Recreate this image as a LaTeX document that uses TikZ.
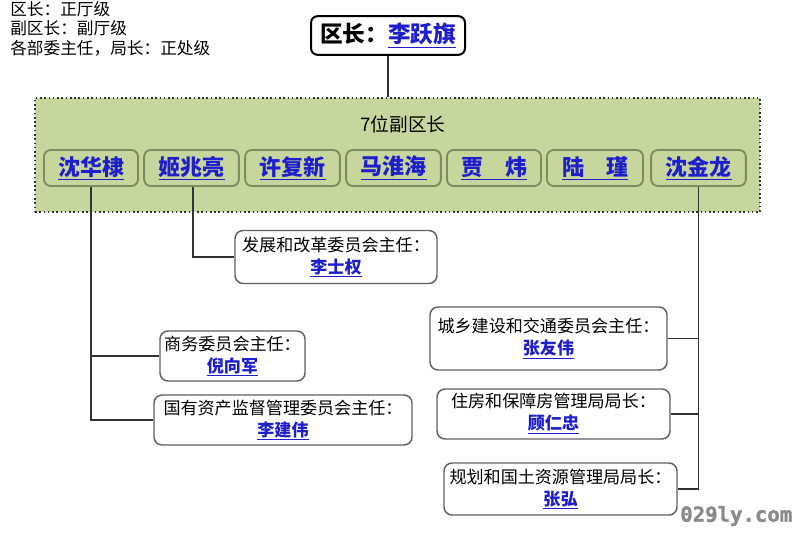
\documentclass[tikz,border=0pt]{standalone}
\usepackage{fontspec}
\setmainfont{Noto Sans CJK SC}
\newfontfamily\wmfont{DejaVu Sans Mono}[BoldFont={DejaVu Sans Mono Bold},BoldFeatures={FakeBold=1.5}]
\definecolor{lnk}{HTML}{1E1ECC}
\definecolor{grpfill}{HTML}{C6D69C}
\definecolor{subedge}{HTML}{7D8C5E}
\definecolor{boxedge}{HTML}{606060}
\definecolor{wire}{HTML}{333333}
\definecolor{wmgray}{HTML}{8A8A8A}
\newcommand{\lk}[1]{\textcolor{lnk}{\underline{\textbf{#1}}}}
\begin{document}
\begin{tikzpicture}[x=0.75pt,y=-0.75pt,
  note/.style={anchor=west,inner sep=0pt,font=\fontsize{12.5}{14}\selectfont},
  headbox/.style={draw=black,line width=1.5pt,rounded corners=5pt,fill=white,minimum width=115.5pt,minimum height=29pt,inner sep=0pt,font=\fontsize{17}{20}\selectfont\bfseries},
  grpbox/.style={draw=wire,dotted,line width=1.2pt,fill=grpfill,minimum width=543.75pt,minimum height=85.5pt,inner sep=0pt},
  vicebox/.style={draw=subedge,line width=1.4pt,rounded corners=5pt,fill=grpfill,minimum height=27pt,inner sep=0pt,font=\fontsize{16.5}{19}\selectfont},
  deptbox/.style={draw=boxedge,line width=1.1pt,rounded corners=6pt,fill=white,inner sep=0pt,align=center,font=\fontsize{12.8}{16.5}\selectfont},
  wire/.style={draw=wire,line width=1.1pt}]
\useasboundingbox (0,0) rectangle (800,535);
\fill[white] (0,0) rectangle (800,535);
% notes
\node[note] (n1) at (10,9) {区长：正厅级};
\node[note] (n2) at (10,28) {副区长：副厅级};
\node[note] (n3) at (10,48) {各部委主任，局长：正处级};
% head
\node[headbox] (qz) at (388,35.5) {区长：\lk{李跃旗}};
% group
\node[grpbox] (grp) at (397.5,155) {};
\node[font=\fontsize{14}{16}\selectfont] (title) at (403,124) {7位副区长};
\node[vicebox,minimum width=70.5pt] (s1) at (91,168) {\lk{沈华棣}};
\node[vicebox,minimum width=71pt] (s2) at (191.5,168) {\lk{姬兆亮}};
\node[vicebox,minimum width=71pt] (s3) at (292.5,168) {\lk{许复新}};
\node[vicebox,minimum width=71pt] (s4) at (393.5,168) {\lk{马淮海}};
\node[vicebox,minimum width=70.5pt] (s5) at (494,168) {\lk{贾\hspace{1em}炜}};
\node[vicebox,minimum width=72pt] (s6) at (595,168) {\lk{陆\hspace{1em}瑾}};
\node[vicebox,minimum width=71pt] (s7) at (698.5,168) {\lk{沈金龙}};
% departments
\node[deptbox,minimum width=151.5pt,minimum height=39.75pt] (fz) at (336,257) {发展和改革委员会主任：\\\lk{李士权}};
\node[deptbox,minimum width=108.75pt,minimum height=37.5pt] (sw) at (232.5,356) {商务委员会主任：\\\lk{倪向军}};
\node[deptbox,minimum width=193.5pt,minimum height=37.5pt] (gy) at (283,420) {国有资产监督管理委员会主任：\\\lk{李建伟}};
\node[deptbox,minimum width=177.75pt,minimum height=47.25pt] (cx) at (548.5,338.5) {城乡建设和交通委员会主任：\\\lk{张友伟}};
\node[deptbox,minimum width=174.75pt,minimum height=37.5pt] (zf) at (553.5,414) {住房和保障房管理局局长：\\\lk{顾仁忠}};
\node[deptbox,minimum width=174.75pt,minimum height=39pt] (gh) at (560.5,489) {规划和国土资源管理局局长：\\\lk{张弘}};
% connectors
\draw[wire] (qz.south) -- (qz.south |- grp.north);
\draw[wire] (s1.south) |- (gy.west);
\draw[wire] (s1.south |- sw.west) -- (sw.west);
\draw[wire] ([xshift=1pt]s2.south) |- (fz.west);
\draw[wire] (s7.south) |- (gh.east);
\draw[wire] (s7.south |- cx.east) -- (cx.east);
\draw[wire] (s7.south |- zf.east) -- (zf.east);
% watermark
\node[anchor=east,text=wmgray,font=\wmfont\bfseries\fontsize{15.5}{17}\selectfont] (wm) at (797,516) {029ly.com};
\end{tikzpicture}
\end{document}
